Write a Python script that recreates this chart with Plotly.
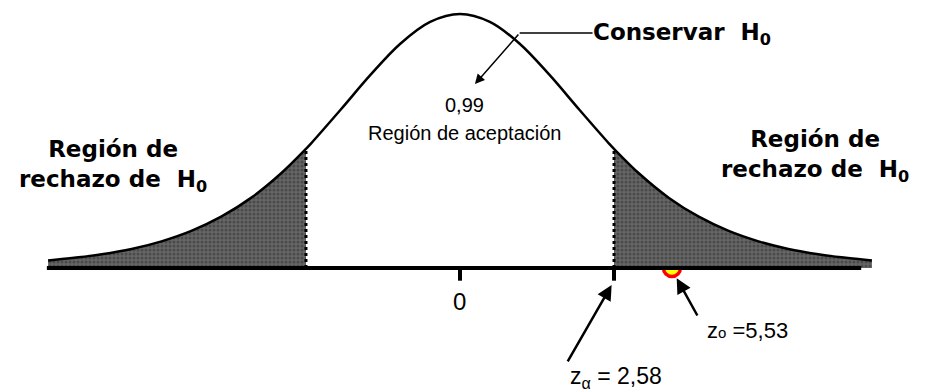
import plotly.graph_objects as go

# Curva (posición en unidades z del esquema, altura relativa al pico)
curve_x = [-6.9, -6.5, -6.0, -5.5, -5.0, -4.5, -4.0, -3.5, -3.0, -2.58, -2.5, -2.0, -1.5, -1.0, -0.5, 0.0,
           0.5, 1.0, 1.5, 2.0, 2.5, 2.58, 3.0, 3.5, 4.0, 4.5, 5.0, 5.5, 6.0, 6.5, 6.9]
curve_y = [0.030, 0.039, 0.054, 0.075, 0.105, 0.146, 0.202, 0.276, 0.372, 0.469, 0.489, 0.623, 0.760, 0.883, 0.969, 1.0,
           0.969, 0.883, 0.760, 0.623, 0.489, 0.469, 0.372, 0.276, 0.202, 0.146, 0.105, 0.075, 0.054, 0.039, 0.030]

z_crit = 2.58          # valor crítico
z_obs_pos = 3.55       # posición dibujada de z0 (esquema)
tick_vals = [0, 2.58]
tick_text = ["0"]
axis_x = [-6.92, 6.72]

label_font = dict(family="DejaVu Sans", size=23, color="black", weight="bold")
arial = dict(family="Liberation Sans, Arial", color="black")

fig = go.Figure()

# punto z0 (queda medio tapado por la sombra, como en el original)
fig.add_trace(go.Scatter(x=[z_obs_pos], y=[0], mode="markers",
                         marker=dict(size=17, color="#ffff00", line=dict(color="#ff0000", width=3.5)),
                         hoverinfo="skip"))

# colas sombreadas
left = [(x, y) for x, y in zip(curve_x, curve_y) if x <= -z_crit]
right = [(x, y) for x, y in zip(curve_x, curve_y) if x >= z_crit]
for part in (left, right):
    fig.add_trace(go.Scatter(
        x=[p[0] for p in part], y=[p[1] for p in part],
        mode="lines", line=dict(width=0, shape="spline"),
        fill="tozeroy", fillcolor="#5a5a5a",
        fillpattern=dict(shape=".", fgcolor="#2e2e2e", bgcolor="#666666", size=4, solidity=0.45),
        hoverinfo="skip"))

# líneas punteadas en los valores críticos
h_crit = curve_y[curve_x.index(z_crit)]
for xc in (-z_crit, z_crit):
    fig.add_trace(go.Scatter(x=[xc, xc], y=[0, h_crit], mode="lines",
                             line=dict(color="black", width=3, dash="dot"), hoverinfo="skip"))

# curva
fig.add_trace(go.Scatter(x=curve_x, y=curve_y, mode="lines",
                         line=dict(color="black", width=2.5, shape="spline"), hoverinfo="skip"))

# eje horizontal y marcas
fig.add_trace(go.Scatter(x=axis_x, y=[0, 0], mode="lines",
                         line=dict(color="black", width=4), hoverinfo="skip"))
for tv in tick_vals:
    fig.add_trace(go.Scatter(x=[tv, tv], y=[0, -0.05], mode="lines",
                             line=dict(color="black", width=4), hoverinfo="skip"))

# textos
fig.add_annotation(x=0, y=-0.13, text=tick_text[0], showarrow=False,
                   font=dict(arial, size=24))
fig.add_annotation(x=0.07, y=0.64, text="0,99", showarrow=False, font=dict(arial, size=20))
fig.add_annotation(x=0.07, y=0.53, text="Región de aceptación", showarrow=False,
                   font=dict(arial, size=20))

fig.add_annotation(x=-5.81, y=0.40, text="Región de<br>rechazo de  H<sub>0</sub>",
                   showarrow=False, font=label_font, align="center")
fig.add_annotation(x=5.95, y=0.44, text="Región de<br>rechazo de  H<sub>0</sub>",
                   showarrow=False, font=label_font, align="center")

fig.add_annotation(x=2.2, y=0.92, text="Conservar  H<sub>0</sub>", showarrow=False,
                   xanchor="left", font=label_font)
fig.add_trace(go.Scatter(x=[2.22, 1.0], y=[0.925, 0.925], mode="lines",
                         line=dict(color="black", width=1.5), hoverinfo="skip"))
fig.add_annotation(x=0.25, y=0.724, ax=1.0, ay=0.925, axref="x", ayref="y", text="",
                   showarrow=True, arrowhead=2, arrowsize=1.3, arrowwidth=1.5, arrowcolor="black")

fig.add_annotation(x=2.61, y=-0.43, text="z<sub>α</sub> = 2,58", showarrow=False,
                   font=dict(arial, size=23))
fig.add_annotation(x=2.54, y=-0.067, ax=1.79, ay=-0.374, axref="x", ayref="y", text="",
                   showarrow=True, arrowhead=2, arrowsize=1.2, arrowwidth=2.5, arrowcolor="black")

fig.add_annotation(x=4.82, y=-0.245, text="z<span style='font-size:15px'>o</span> =5,53",
                   showarrow=False, font=dict(arial, size=22))
fig.add_annotation(x=3.63, y=-0.04, ax=3.99, ay=-0.193, axref="x", ayref="y", text="",
                   showarrow=True, arrowhead=2, arrowsize=1.2, arrowwidth=2.5, arrowcolor="black")

# la página añade 8 px de margen: los rangos lo compensan
fig.update_layout(
    width=929, height=392,
    showlegend=False,
    margin=dict(l=0, r=0, t=0, b=0),
    paper_bgcolor="white", plot_bgcolor="white",
    xaxis=dict(range=[-7.571, 7.990], visible=False, fixedrange=True),
    yaxis=dict(range=[-0.5197, 1.0236], visible=False, fixedrange=True),
)

fig.write_html("out.html")
